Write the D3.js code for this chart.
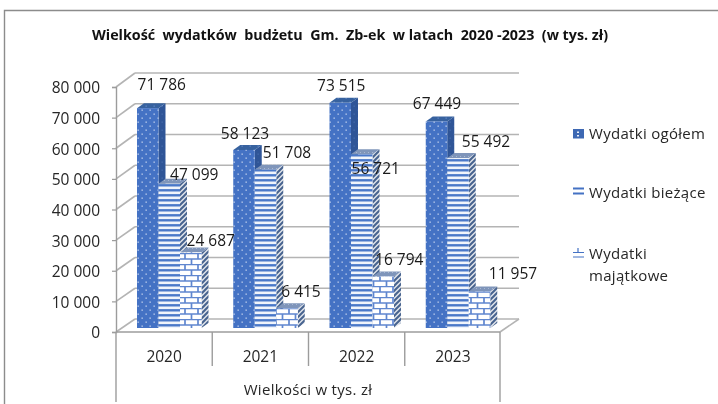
<!DOCTYPE html>
<html lang="pl">
<head>
<meta charset="utf-8">
<script src="https://cdn.jsdelivr.net/npm/d3@7"></script>
<style>
html,body{margin:0;padding:0;background:#fff;overflow:hidden}
svg{display:block;filter:blur(.35px)}
text{font-family:"Open Sans",sans-serif;fill:#262626}
</style>
</head>
<body>
<svg id="c" width="718" height="404"></svg>
<script>
const categories = ["2020", "2021", "2022", "2023"];
const seriesNames = ["Wydatki ogółem", "Wydatki bieżące", "Wydatki majątkowe"];
const wydatkiOgolem = [71786, 58123, 73515, 67449];
const wydatkiBiezace = [47099, 51708, 56721, 55492];
const wydatkiMajatkowe = [24687, 6415, 16794, 11957];
const yTicks = [0, 10000, 20000, 30000, 40000, 50000, 60000, 70000, 80000];
const chartTitle = "Wielkość  wydatków  budżetu  Gm.  Zb-ek  w latach  2020 -2023  (w tys. zł)";
const axisTitle = "Wielkości w tys. zł";
const seriesValues = [wydatkiOgolem, wydatkiBiezace, wydatkiMajatkowe];

// layout only: manual label placement relative to each bar's top front centre
const labelNudge = [
  [[14,-24],[1,-17],[1,-17],[.5,-18]],
  [[25,-9],[21.5,-17],[14,14],[28,-17]],
  [[20,-12],[14,-17],[16,-17],[33.5,-18]]
];

const svg = d3.select("#c");
const fmt = v => d3.format(",")(v).replace(/,/g, " ");
const defs = svg.append("defs");

function pattern(id, w, h, bg, draw) {
  const p = defs.append("pattern").attr("id", id).attr("patternUnits", "userSpaceOnUse")
    .attr("width", w).attr("height", h);
  p.append("rect").attr("width", w).attr("height", h).attr("fill", bg);
  draw(p);
}
const dots = (id, bg, col) => pattern(id, 8, 8, bg, p => {
  [[1.5, 1.5], [5.5, 5.5]].forEach(([x, y]) => p.append("rect").attr("x", x).attr("y", y).attr("width", 1.3).attr("height", 1.3).attr("fill", col));
});
dots("pDots", "#4472c4", "#c6d5ef");
dots("pDotsSide", "#2f5597", "#456aab");
dots("pDotsTop", "#37629f", "#5f86c4");
pattern("pStripes", 5, 5, "#4a78c8", p => p.append("rect").attr("y", 1.5).attr("width", 5).attr("height", 2.6).attr("fill", "#f0f4fb"));
pattern("pDiag", 5, 5, "#dfe3ea", p => p.append("path").attr("d", "M-1,6 L6,-1 M-1,1 L1,-1 M4,6 L6,4").attr("stroke", "#47638f").attr("stroke-width", 2));
pattern("pBrick", 13, 11, "#ffffff", p => {
  p.append("path").attr("d", "M0,.5H13 M0,6H13 M3,.5V6 M9.5,6V11").attr("stroke", "#5f86cf").attr("stroke-width", 1.7).attr("fill", "none");
});
pattern("pTopLight", 4, 4, "#7f95ba", p => p.append("rect").attr("width", 1).attr("height", 1).attr("fill", "#a9b8d2"));

const frontFill = ["url(#pDots)", "url(#pStripes)", "url(#pBrick)"];
const sideFill = ["url(#pDotsSide)", "url(#pDiag)", "url(#pDiag)"];
const topFill = ["url(#pDotsTop)", "url(#pTopLight)", "url(#pTopLight)"];

// scales
const x0 = d3.scaleBand().domain(categories).range([116, 501]);
const x1 = d3.scaleBand().domain(d3.range(3)).range([21, 85.5]);
const yAxisScale = d3.scaleLinear().domain([0, 80000]).range([332, 87]);
const yBar = d3.scaleLinear().domain([0, 80000]).range([328, 83]);
const yBack = d3.scaleLinear().domain([0, 80000]).range([319, 73]);
const wallDx = 19, barDx = 7, barDy = -5;
const grid = "#b4b4b4", axisCol = "#9c9c9c";

// chart frame (top and left only visible in crop)
svg.append("path").attr("d", "M718,10.5H4.5V404").attr("fill", "none").attr("stroke", "#8c8c8c").attr("stroke-width", 1.4);

svg.append("text").attr("x", 350).attr("y", 40).attr("text-anchor", "middle")
  .style("font-size", "14.3px").style("font-weight", 700).style("fill", "#111").style("white-space", "pre").text(chartTitle);

// walls
const gridG = svg.append("g").attr("fill", "none").attr("stroke", grid).attr("stroke-width", 1.6);
gridG.selectAll(".back").data(yTicks).join("line")
  .attr("x1", x0.range()[0] + wallDx).attr("x2", x0.range()[1] + wallDx - 1)
  .attr("y1", d => yBack(d)).attr("y2", d => yBack(d));
gridG.selectAll(".wall").data(yTicks).join("line")
  .attr("x1", x0.range()[0]).attr("y1", d => yAxisScale(d))
  .attr("x2", x0.range()[0] + wallDx).attr("y2", d => yBack(d));
gridG.append("line").attr("x1", x0.range()[1] - 1).attr("y1", yAxisScale(0))
  .attr("x2", x0.range()[1] + wallDx - 1).attr("y2", yBack(0));

// value axis
const axis = d3.axisLeft(yAxisScale).tickValues(yTicks).tickFormat(fmt).tickSize(4).tickPadding(12);
const axG = svg.append("g").attr("transform", `translate(${x0.range()[0]},0)`).call(axis);
axG.select(".domain").attr("stroke", axisCol).attr("stroke-width", 1.4);
axG.selectAll(".tick line").attr("stroke", axisCol).attr("stroke-width", 1.2);
axG.selectAll("text").attr("y", 1).style("font-size", "15.5px").style("font-family", '"Open Sans",sans-serif');

// bars
categories.forEach((c, i) => {
  const g = svg.append("g");
  seriesValues.forEach((vals, s) => {
    const v = vals[i], xl = x0(c) + x1(s), w = x1.bandwidth(), yt = yBar(v), yb = yBar(0);
    g.append("path").attr("fill", sideFill[s])
      .attr("d", `M${xl + w},${yt}L${xl + w + barDx},${yt + barDy}V${yb + barDy}L${xl + w},${yb}Z`);
    g.append("path").attr("fill", topFill[s])
      .attr("d", `M${xl},${yt}L${xl + barDx},${yt + barDy}H${xl + w + barDx}L${xl + w},${yt}Z`);
    g.append("rect").attr("x", xl).attr("y", yt).attr("width", w).attr("height", yb - yt).attr("fill", frontFill[s]);
  });
});

// data labels
categories.forEach((c, i) => {
  seriesValues.forEach((vals, s) => {
    const [dx, dy] = labelNudge[s][i];
    svg.append("text").attr("x", x0(c) + x1(s) + x1.bandwidth() / 2 + dx).attr("y", yBar(vals[i]) + dy)
      .attr("dy", ".36em").attr("text-anchor", "middle").style("font-size", "15.5px").style("fill", "#1a1a1a").text(fmt(vals[i]));
  });
});

// multi-level category axis
const catG = svg.append("g").attr("stroke", axisCol).attr("stroke-width", 1.4);
catG.append("line").attr("x1", x0.range()[0]).attr("x2", x0.range()[1] - 1).attr("y1", yAxisScale(0)).attr("y2", yAxisScale(0));
categories.slice(1).forEach(c => catG.append("line").attr("x1", x0(c)).attr("x2", x0(c)).attr("y1", yAxisScale(0)).attr("y2", 366));
[x0.range()[0], x0.range()[1] - 1].forEach(x => catG.append("line").attr("x1", x).attr("x2", x).attr("y1", yAxisScale(0)).attr("y2", 402));
categories.forEach(c => svg.append("text").attr("x", x0(c) + x0.bandwidth() / 2).attr("y", 362).attr("text-anchor", "middle").style("font-size", "15.5px").text(c));
svg.append("text").attr("x", 308).attr("y", 395).attr("text-anchor", "middle").style("font-size", "15px").style("letter-spacing", ".3px").text(axisTitle);

// legend
const lg = svg.append("g");
lg.append("rect").attr("x", 573).attr("y", 129).attr("width", 11).attr("height", 9.5).attr("fill", "#3d68b3");
lg.selectAll(".d").data([[577, 131.5], [577, 135]]).join("rect").attr("x", d => d[0]).attr("y", d => d[1]).attr("width", 2).attr("height", 1.5).attr("fill", "#e6ecf7");
lg.append("path").attr("d", "M573,188.5H584M573,193.5H584").attr("stroke", "#4472c4").attr("stroke-width", 2.2);
lg.append("path").attr("d", "M573,257H584M573,252.5H584M578,248V252.5").attr("stroke", "#4472c4").attr("stroke-width", 1.2).attr("fill", "none");
const lgText = (t, y) => lg.append("text").attr("x", 589).attr("y", y).style("font-size", "15px").style("letter-spacing", ".3px").text(t);
lgText(seriesNames[0], 139);
lgText(seriesNames[1], 198);
const parts = seriesNames[2].split(" ");
lgText(parts[0], 259);
lgText(parts[1], 281);
</script>
</body>
</html>
